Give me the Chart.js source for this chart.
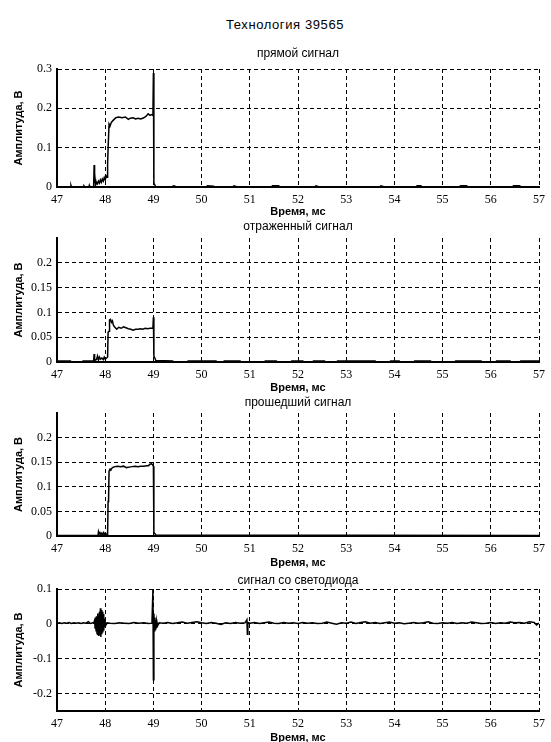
<!DOCTYPE html>
<html lang="ru">
<head>
<meta charset="utf-8">
<title>Технология 39565</title>
<script src="https://cdn.jsdelivr.net/npm/chart.js@4.4.1/dist/chart.umd.min.js"></script>
<style>
  html, body { margin: 0; padding: 0; background: #fff; }
  #page { position: relative; width: 551px; height: 742px; overflow: hidden; }
  #main-title {
    position: absolute; left: 185px; top: 17px; width: 200px;
    text-align: center; color: #000;
    font: 13px "Liberation Sans", Arial, sans-serif; line-height: 16px; letter-spacing: 0.6px;
  }
  canvas { position: absolute; left: 0; }
</style>
</head>
<body>
<div id="page">
  <div id="main-title">Технология 39565</div>
  <canvas id="c1" width="551" height="179" style="top:40px"></canvas>
  <canvas id="c2" width="551" height="176" style="top:219px"></canvas>
  <canvas id="c3" width="551" height="175" style="top:395px"></canvas>
  <canvas id="c4" width="551" height="175" style="top:570px"></canvas>
</div>
<script>
const xTicks = [47, 48, 49, 50, 51, 52, 53, 54, 55, 56, 57];

// прямой сигнал
const directTime = [47.00, 47.28, 47.29, 47.30, 47.55, 47.56, 47.58, 47.66, 47.67, 47.68, 47.76, 47.77, 47.78, 47.79, 47.80, 47.82, 47.84, 47.86, 47.88, 47.90, 47.92, 47.94, 47.96, 47.98, 48.00, 48.02, 48.04, 48.05, 48.06, 48.08, 48.10, 48.13, 48.17, 48.22, 48.28, 48.35, 48.42, 48.48, 48.52, 48.58, 48.63, 48.68, 48.74, 48.80, 48.85, 48.89, 48.93, 48.96, 48.99, 49.00, 49.01, 49.03, 49.05, 49.40, 49.41, 49.45, 49.47, 50.10, 50.12, 50.25, 50.27, 50.65, 50.67, 50.75, 51.45, 51.47, 51.60, 51.62, 52.35, 52.37, 52.45, 53.70, 53.72, 53.80, 54.45, 54.47, 54.55, 54.57, 55.35, 55.37, 55.50, 55.52, 56.45, 56.47, 56.60, 56.62, 57.00];
const directAmp = [0, 0, 0.004, 0, 0, 0.003, 0, 0, 0.004, 0, 0, 0.056, 0.01, 0.02, 0.005, 0.012, 0.008, 0.015, 0.01, 0.018, 0.012, 0.02, 0.015, 0.024, 0.018, 0.028, 0.025, 0.06, 0.098, 0.16, 0.155, 0.165, 0.17, 0.176, 0.178, 0.176, 0.178, 0.172, 0.175, 0.176, 0.173, 0.175, 0.173, 0.176, 0.18, 0.186, 0.182, 0.184, 0.182, 0.29, 0.01, 0.005, 0, 0, 0.003, 0.002, 0, 0, 0.003, 0.002, 0, 0, 0.003, 0, 0, 0.003, 0.003, 0, 0, 0.003, 0, 0, 0.003, 0, 0, 0.003, 0.003, 0, 0, 0.003, 0.003, 0, 0, 0.003, 0.003, 0, 0];
const directTicks = [0, 0.1, 0.2, 0.3];

// отраженный сигнал
const reflTime = [47.00, 47.28, 47.30, 47.52, 47.54, 47.76, 47.77, 47.78, 47.82, 47.84, 47.86, 47.88, 47.90, 47.93, 47.96, 47.98, 48.00, 48.03, 48.05, 48.06, 48.08, 48.09, 48.11, 48.13, 48.15, 48.17, 48.20, 48.24, 48.28, 48.33, 48.38, 48.43, 48.48, 48.53, 48.58, 48.63, 48.68, 48.73, 48.78, 48.83, 48.88, 48.93, 48.99, 49.00, 49.01, 49.03, 49.05, 49.40, 49.42, 49.70, 49.72, 50.30, 50.32, 50.45, 50.47, 50.80, 50.82, 51.30, 51.32, 51.55, 51.57, 51.85, 51.87, 52.10, 52.12, 52.30, 52.32, 52.55, 52.57, 52.80, 52.82, 53.60, 53.62, 53.90, 53.92, 54.10, 54.12, 54.40, 54.42, 54.75, 54.77, 55.25, 55.27, 55.80, 55.82, 56.10, 56.12, 56.40, 56.42, 56.60, 56.62, 56.95, 57.00];
const reflAmp = [0.002, 0.002, 0, 0, 0.002, 0.002, 0.016, 0.003, 0.005, 0.012, 0.004, 0.01, 0.006, 0.008, 0.005, 0.01, 0.006, 0.008, 0.01, 0.06, 0.062, 0.085, 0.086, 0.08, 0.083, 0.074, 0.07, 0.066, 0.07, 0.068, 0.071, 0.069, 0.067, 0.066, 0.064, 0.066, 0.066, 0.067, 0.066, 0.068, 0.067, 0.068, 0.068, 0.09, 0.012, 0.008, 0.003, 0.002, 0, 0, 0.002, 0.002, 0, 0, 0.002, 0.002, 0, 0, 0.002, 0.002, 0, 0, 0.002, 0.002, 0, 0, 0.002, 0.002, 0, 0, 0.002, 0.002, 0, 0, 0.002, 0.002, 0, 0, 0.002, 0.002, 0, 0, 0.002, 0.002, 0, 0, 0.002, 0.002, 0, 0, 0.002, 0.002, 0.002];
const reflTicks = [0, 0.05, 0.1, 0.15, 0.2];

// прошедший сигнал
const transTime = [47.00, 47.85, 47.86, 47.87, 47.89, 47.91, 47.93, 47.95, 47.97, 47.99, 48.01, 48.03, 48.05, 48.06, 48.07, 48.08, 48.10, 48.12, 48.15, 48.20, 48.26, 48.32, 48.38, 48.44, 48.50, 48.56, 48.62, 48.68, 48.74, 48.80, 48.86, 48.90, 48.93, 48.96, 48.98, 49.00, 49.01, 49.03, 49.05, 57.00];
const transAmp = [0.001, 0.001, 0.008, 0.004, 0.007, 0.003, 0.006, 0.002, 0.007, 0.003, 0.005, 0.002, 0.003, 0.07, 0.075, 0.132, 0.136, 0.135, 0.139, 0.141, 0.142, 0.141, 0.142, 0.139, 0.14, 0.141, 0.142, 0.141, 0.142, 0.142, 0.143, 0.143, 0.146, 0.147, 0.145, 0.142, 0.008, 0.005, 0.002, 0.001];
const transTicks = [0, 0.05, 0.1, 0.15, 0.2];

// сигнал со светодиода
const ledTime = [47.00, 47.05, 47.10, 47.15, 47.20, 47.25, 47.30, 47.35, 47.40, 47.45, 47.50, 47.55, 47.60, 47.65, 47.70, 47.74, 47.76,
  47.78, 47.79, 47.80, 47.81, 47.82, 47.83, 47.84, 47.85, 47.86, 47.87, 47.88, 47.89, 47.90, 47.91, 47.92, 47.93, 47.94, 47.95, 47.96, 47.97, 47.98, 47.99, 48.00, 48.02, 48.04,
  48.10, 48.20, 48.30, 48.40, 48.50, 48.60, 48.70, 48.80, 48.90, 48.97, 48.99, 49.00, 49.01, 49.02, 49.03, 49.04, 49.05, 49.06, 49.07, 49.09, 49.12,
  49.20, 49.30, 49.40, 49.50, 49.60, 49.70, 49.80, 49.90, 50.00, 50.10, 50.20, 50.30, 50.40, 50.50, 50.60, 50.70, 50.80, 50.90, 50.94, 50.95, 50.96,
  51.00, 51.10, 51.20, 51.30, 51.40, 51.50, 51.60, 51.70, 51.80, 51.90, 52.00, 52.10, 52.20, 52.30, 52.40, 52.50, 52.60, 52.70, 52.80, 52.90,
  53.00, 53.10, 53.20, 53.30, 53.40, 53.50, 53.60, 53.70, 53.80, 53.90, 54.00, 54.10, 54.20, 54.30, 54.40, 54.50, 54.60, 54.70, 54.80, 54.90,
  55.00, 55.10, 55.20, 55.30, 55.40, 55.50, 55.60, 55.70, 55.80, 55.90, 56.00, 56.10, 56.20, 56.30, 56.40, 56.50, 56.60, 56.70, 56.80, 56.90, 56.95, 57.00];
const ledAmp = [0.002, 0.003, 0.001, 0.003, 0.002, 0.004, 0.001, 0.003, 0.002, 0.003, 0.001, 0.003, 0.002, 0.006, 0.001, 0.003, 0.002,
  0.01, -0.012, 0.018, -0.02, 0.022, -0.028, 0.03, -0.03, 0.025, -0.035, 0.035, -0.033, 0.045, -0.038, 0.04, -0.03, 0.035, -0.025, 0.028, -0.02, 0.015, -0.01, 0.006, -0.002, 0.003,
  0.002, 0.001, 0.003, 0.002, 0.001, 0.004, 0.002, 0.003, 0.001, 0.002, 0.098, -0.16, 0.03, -0.02, 0.018, -0.015, 0.012, -0.01, 0.008, -0.005, 0.003,
  0.002, 0.004, 0.001, 0.003, 0.005, 0.002, 0.004, 0.006, 0.003, 0.001, 0.004, 0.002, -0.002, 0.003, 0.001, 0.004, 0.002, 0.003, 0.012, -0.03, 0.004,
  0.002, 0.004, 0.001, 0.003, 0.005, 0.002, 0.001, 0.004, 0.002, 0.003, 0.001, 0.004, 0.002, 0.003, 0.001, 0.002, 0.005, 0.002, -0.001, 0.003,
  0.002, 0.005, 0.001, 0.004, 0.006, 0.002, 0.004, 0.001, 0.003, 0.005, 0.002, 0.003, 0, 0.002, 0.004, 0.002, 0.003, 0.006, 0.002, 0.001,
  0.003, 0.002, 0.004, 0.001, 0.003, 0.002, 0.005, 0.003, 0.001, 0.002, 0.004, 0.001, 0.003, 0.002, 0.005, 0.003, 0.004, 0.002, 0.006, 0.004, -0.003, 0.002];
const ledTicks = [-0.2, -0.1, 0, 0.1];

const sansFont = '"Liberation Sans", Arial, sans-serif';
const serifFont = '"Liberation Serif", "Times New Roman", serif';

Chart.defaults.color = '#000';
Chart.defaults.animation = false;

function makePanel(id, title, time, amp, yMin, yMax, yTicks, titlePad, xAxisHeight) {
  const points = time.map((t, i) => ({ x: t, y: amp[i] }));

  return new Chart(document.getElementById(id), {
    type: 'line',
    data: {
      datasets: [{
        data: points,
        borderColor: '#000',
        borderWidth: 1.5,
        pointRadius: 0,
        tension: 0,
        fill: false,
      }],
    },
    options: {
      responsive: false,
      events: [],
      layout: { padding: { left: 0, right: 7, top: 0, bottom: 0 } },
      plugins: {
        legend: { display: false },
        tooltip: { enabled: false },
        title: {
          display: true,
          text: title,
          fullSize: false,
          color: '#000',
          font: { family: sansFont, size: 12, weight: 'normal' },
          padding: titlePad,
        },
      },
      scales: {
        x: {
          type: 'linear',
          min: 47,
          max: 57,
          afterBuildTicks: (scale) => { scale.ticks = xTicks.map(v => ({ value: v })); },
          afterFit: (scale) => { scale.height = xAxisHeight; },
          grid: { color: '#000', lineWidth: 1, drawTicks: false },
          border: { display: true, color: '#000', width: 2, dash: [4, 3] },
          ticks: {
            autoSkip: false,
            maxRotation: 0,
            padding: 6,
            font: { family: serifFont, size: 12 },
            callback: (v) => String(v),
          },
          title: {
            display: true,
            text: 'Время, мс',
            padding: { top: 0, bottom: 0 },
            font: { family: sansFont, size: 11, weight: 'bold' },
          },
        },
        y: {
          min: yMin,
          max: yMax,
          afterBuildTicks: (scale) => { scale.ticks = yTicks.map(v => ({ value: v })); },
          afterFit: (scale) => { scale.width = 57; },
          grid: { color: '#000', lineWidth: 1, drawTicks: false },
          border: { display: true, color: '#000', width: 2, dash: [4, 3] },
          ticks: {
            padding: 5,
            font: { family: serifFont, size: 12 },
            callback: (v) => String(v),
          },
          title: {
            display: true,
            text: 'Амплитуда, В',
            padding: { top: 12, bottom: 0 },
            font: { family: sansFont, size: 11, weight: 'bold' },
          },
        },
      },
    },
  });
}

makePanel('c1', 'прямой сигнал', directTime, directAmp, 0, 0.3, directTicks, { top: 6, bottom: 8.6 }, 32);
makePanel('c2', 'отраженный сигнал', reflTime, reflAmp, 0, 0.25, reflTicks, { top: 0, bottom: 4.6 }, 33);
makePanel('c3', 'прошедший сигнал', transTime, transAmp, 0, 0.25, transTicks, { top: 0, bottom: 3.6 }, 34);
makePanel('c4', 'сигнал со светодиода', ledTime, ledAmp, -0.25, 0.1, ledTicks, { top: 3, bottom: 1.6 }, 34);
</script>
</body>
</html>
